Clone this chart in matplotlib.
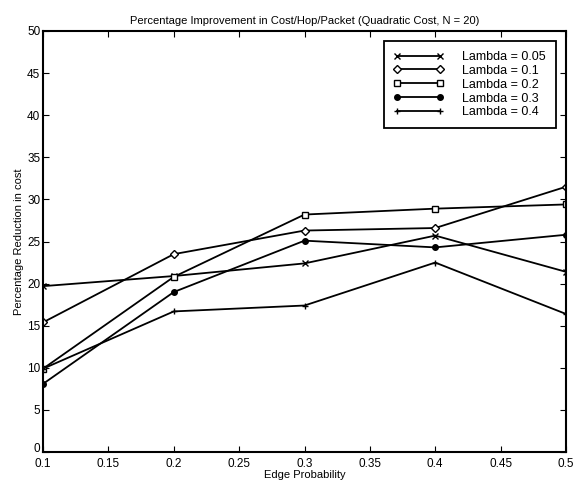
import matplotlib
matplotlib.use('Agg')
import matplotlib.pyplot as plt
import matplotlib.transforms as mtrans

plt.rcParams['font.family'] = ['Liberation Sans', 'DejaVu Sans']

edge_prob = [0.1, 0.2, 0.3, 0.4, 0.5]

lam_005 = [19.7, 20.9, 22.4, 25.7, 21.4]
lam_01 = [15.4, 23.5, 26.3, 26.6, 31.5]
lam_02 = [9.9, 20.8, 28.2, 28.9, 29.4]
lam_03 = [8.1, 19.0, 25.1, 24.3, 25.8]
lam_04 = [9.9, 16.7, 17.4, 22.5, 16.4]

series = [
    (lam_005, 'x', 'none', 'Lambda = 0.05'),
    (lam_01, 'D', 'white', 'Lambda = 0.1'),
    (lam_02, 's', 'white', 'Lambda = 0.2'),
    (lam_03, 'o', 'black', 'Lambda = 0.3'),
    (lam_04, '+', 'none', 'Lambda = 0.4'),
]

fig = plt.figure(figsize=(5.74, 4.83), dpi=100)
ax = fig.add_axes([0.075, 0.064, 0.911, 0.872])

for vals, mk, fc, lab in series:
    ms = 4 if mk in ('D', 'o') else 4.5
    ax.plot(edge_prob, vals, color='black', lw=1.3, marker=mk, ms=ms,
            mfc=fc, mec='black', mew=1.0, label=lab)

ax.set_xlim(0.1, 0.5)
ax.set_ylim(0, 50)
ax.set_xticks([0.1, 0.15, 0.2, 0.25, 0.3, 0.35, 0.4, 0.45, 0.5])
ax.set_xticklabels(['0.1', '0.15', '0.2', '0.25', '0.3', '0.35', '0.4', '0.45', '0.5'])
ax.set_yticks(range(0, 51, 5))
ax.tick_params(direction='in', top=True, right=True, length=4, labelsize=8.5)
ax.tick_params(axis='x', pad=4)
ax.tick_params(axis='y', pad=2)
for s in ax.spines.values():
    s.set_linewidth(1.5)

# nudge the "0" y label up a little so it clears the "0.1" below it
lab0 = ax.get_yticklabels()[0]
lab0.set_transform(lab0.get_transform() + mtrans.ScaledTranslation(0, 3 / 72, fig.dpi_scale_trans))

ax.set_title('Percentage Improvement in Cost/Hop/Packet (Quadratic Cost, N = 20)',
             fontsize=8, pad=5)
ax.set_xlabel('Edge Probability', fontsize=8, labelpad=0)
ax.set_ylabel('Percentage Reduction in cost', fontsize=8, labelpad=2)

leg = ax.legend(loc='upper right', fontsize=9, fancybox=False, framealpha=1,
                edgecolor='black', handlelength=4, borderaxespad=0.8,
                labelspacing=0.15, handletextpad=1.5, numpoints=2,
                borderpad=0.8)
leg.get_frame().set_linewidth(1.3)

fig.savefig('out.png', dpi=100)
